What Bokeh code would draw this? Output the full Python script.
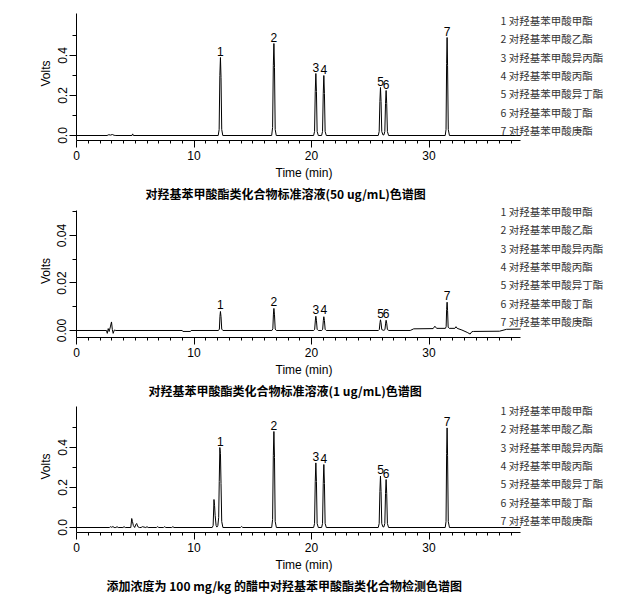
import math
from bokeh.plotting import figure
from bokeh.models import Range1d, FixedTicker, Label, ColumnDataSource, Title
from bokeh.layouts import column
from bokeh.embed import file_html
from bokeh.resources import INLINE
from bokeh.core.properties import value

# ---------------- data ----------------
compound_names = ["对羟基苯甲酸甲酯", "对羟基苯甲酸乙酯", "对羟基苯甲酸异丙酯", "对羟基苯甲酸丙酯",
                  "对羟基苯甲酸异丁酯", "对羟基苯甲酸丁酯", "对羟基苯甲酸庚酯"]
peak_ids = ["1", "2", "3", "4", "5", "6", "7"]
peak_times = [12.25, 16.80, 20.37, 21.05, 25.87, 26.35, 31.54]

captions = ["对羟基苯甲酸酯类化合物标准溶液(50 ug/mL)色谱图",
            "对羟基苯甲酸酯类化合物标准溶液(1 ug/mL)色谱图",
            "添加浓度为 100 mg/kg 的醋中对羟基苯甲酸酯类化合物检测色谱图"]

# Trace 1: standard 50 ug/mL
time_50 = [0.00, 2.60, 2.75, 2.90, 3.05, 3.20, 3.35, 4.72, 4.78, 4.84,
           12.06, 12.14, 12.20, 12.25, 12.30, 12.36, 12.45,
           16.61, 16.69, 16.75, 16.80, 16.85, 16.91, 17.00,
           20.18, 20.26, 20.32, 20.37, 20.42, 20.48, 20.58,
           20.86, 20.94, 21.00, 21.05, 21.10, 21.16, 21.26,
           25.68, 25.76, 25.82, 25.87, 25.92, 25.98, 26.08,
           26.16, 26.24, 26.30, 26.35, 26.40, 26.46, 26.56,
           31.38, 31.45, 31.50, 31.54, 31.58, 31.64, 31.74, 37.80]
volts_50 = [0, 0, 0.004, 0.002, 0.005, 0.001, 0, 0, 0.008, 0,
            0, 0.03, 0.30, 0.39, 0.29, 0.03, 0,
            0, 0.04, 0.35, 0.46, 0.34, 0.03, 0,
            0, 0.02, 0.22, 0.31, 0.22, 0.02, 0,
            0, 0.02, 0.21, 0.30, 0.21, 0.02, 0,
            0, 0.02, 0.17, 0.24, 0.17, 0.02, 0.003,
            0.003, 0.02, 0.16, 0.225, 0.16, 0.02, 0,
            0, 0.03, 0.36, 0.49, 0.35, 0.03, 0, 0]
label_h_50 = [0.39, 0.46, 0.31, 0.30, 0.24, 0.225, 0.49]

# Trace 2: standard 1 ug/mL
time_1 = [0.00, 2.55, 2.62, 2.70, 2.78, 2.88, 2.98, 3.05, 3.12, 3.22, 3.35, 9.00, 9.05, 9.70, 9.75,
          12.08, 12.16, 12.21, 12.25, 12.30, 12.36, 12.46,
          16.63, 16.71, 16.76, 16.80, 16.85, 16.91, 17.01,
          20.19, 20.27, 20.33, 20.37, 20.42, 20.48, 20.58,
          20.87, 20.95, 21.01, 21.05, 21.10, 21.16, 21.26,
          25.69, 25.77, 25.83, 25.87, 25.92, 25.98, 26.10,
          26.18, 26.25, 26.31, 26.35, 26.40, 26.46, 26.58,
          28.40, 28.70, 30.35, 30.50, 30.65, 31.40, 31.46, 31.50, 31.54, 31.58, 31.63, 31.72,
          32.20, 32.30, 32.40, 32.80, 33.25, 33.50, 33.65, 33.80, 36.00, 36.60, 37.80]
volts_1 = [0, 0, -0.0012, 0.0008, -0.0004, 0.0015, 0.0036, 0.0004, -0.0012, 0.0002, 0, 0, -0.0004, -0.0004, 0,
           0, 0.0006, 0.0060, 0.0080, 0.0058, 0.0006, 0,
           0, 0.0007, 0.0069, 0.0093, 0.0066, 0.0006, 0,
           0, 0.0005, 0.0044, 0.0060, 0.0043, 0.0005, 0,
           0, 0.0005, 0.0043, 0.0058, 0.0042, 0.0005, 0,
           0, 0.0004, 0.0033, 0.0045, 0.0032, 0.0004, 0.0001,
           0.0001, 0.0004, 0.0031, 0.0043, 0.0031, 0.0004, 0,
           0, 0.0007, 0.0008, 0.0018, 0.0009, 0.0009, 0.0016, 0.0088, 0.0119, 0.0085, 0.0014, 0.0009,
           0.0009, 0.0016, 0.0009, 0.0002, -0.0008, -0.0015, -0.0005, -0.0004, -0.0003, 0.0005, 0.0006]
label_h_1 = [0.0080, 0.0093, 0.0060, 0.0060, 0.0045, 0.0045, 0.0119]

# Trace 3: vinegar sample spiked 100 mg/kg
time_v = [0.00, 2.80, 2.90, 3.00, 3.10, 3.20, 3.35, 3.45, 3.55, 3.95, 4.05, 4.15,
          4.62, 4.70, 4.76, 4.84, 4.95, 5.05, 5.12, 5.22, 5.35, 5.50, 5.60, 5.90, 6.00, 6.10,
          6.80, 6.90, 7.00, 7.40, 7.50, 7.60, 8.10, 8.20, 8.30,
          11.55, 11.63, 11.70, 11.75, 11.80, 11.88, 11.95,
          12.03, 12.10, 12.15, 12.20, 12.25, 12.30, 12.36, 12.46,
          13.95, 14.05, 14.15,
          16.61, 16.69, 16.75, 16.80, 16.85, 16.91, 17.01,
          20.18, 20.26, 20.32, 20.37, 20.42, 20.48, 20.58,
          20.86, 20.94, 21.00, 21.05, 21.10, 21.16, 21.26,
          25.68, 25.76, 25.82, 25.87, 25.92, 25.98, 26.08,
          26.16, 26.24, 26.30, 26.35, 26.40, 26.46, 26.56,
          31.38, 31.45, 31.50, 31.54, 31.58, 31.64, 31.74, 37.80]
volts_v = [0, 0, 0.004, 0.001, 0.005, 0.0, 0, 0.004, 0, 0, 0.004, 0,
           0, 0.045, 0.030, 0.010, 0, 0.015, 0.020, 0.004, 0, 0, 0.004, 0, 0.004, 0,
           0, 0.004, 0, 0, 0.004, 0, 0, 0.004, 0,
           0, 0.010, 0.140, 0.110, 0.060, 0.010, 0.002,
           0.010, 0.050, 0.230, 0.400, 0.370, 0.220, 0.030, 0,
           0, 0.005, 0,
           0, 0.04, 0.36, 0.48, 0.35, 0.03, 0,
           0, 0.02, 0.23, 0.323, 0.23, 0.02, 0,
           0, 0.02, 0.22, 0.315, 0.22, 0.02, 0,
           0, 0.02, 0.18, 0.257, 0.18, 0.02, 0.003,
           0.003, 0.02, 0.17, 0.24, 0.17, 0.02, 0,
           0, 0.03, 0.37, 0.498, 0.36, 0.03, 0, 0]
label_h_v = [0.40, 0.48, 0.323, 0.315, 0.257, 0.24, 0.498]

x_major = [0, 10, 20, 30]
x_minor = list(range(1, 38))

# ---------------- layout constants ----------------
LEFT = 76
FRAME_W = 543
PX_PER_MIN = 11.75
X_END = FRAME_W / PX_PER_MIN
AXIS_END = 37.8

LATIN = "Liberation Sans"
CJK = "Noto Sans CJK SC"


def make_panel(times, volts, label_h, yr, ytop, yticks, yminor, ylabels, caption, cap_offset,
               top_border, frame_h, legend_top):
    p = figure(frame_width=FRAME_W, frame_height=frame_h, output_backend="svg",
               toolbar_location=None,
               x_range=Range1d(0, X_END), y_range=Range1d(*yr),
               min_border_left=LEFT, min_border_right=0, min_border_top=top_border,
               min_border_bottom=0)
    p.outline_line_color = None
    p.grid.visible = False
    p.background_fill_color = "white"
    p.border_fill_color = "white"

    src = ColumnDataSource(dict(t=times, v=volts))
    p.line("t", "v", source=src, line_color="black", line_width=1)

    lab = ColumnDataSource(dict(t=peak_times, h=label_h, s=peak_ids))
    p.text("t", "h", text="s", source=lab, text_align="center", text_baseline="bottom",
           y_offset=-2, text_font=value(LATIN), text_font_size="12px", text_color="black")

    xa = p.xaxis[0]
    xa.ticker = FixedTicker(ticks=x_major, minor_ticks=x_minor)
    xa.bounds = (0, AXIS_END)
    xa.major_tick_in = 0
    xa.major_tick_out = 7
    xa.minor_tick_in = 0
    xa.minor_tick_out = 3
    xa.major_label_standoff = 3
    xa.major_label_text_font = LATIN
    xa.major_label_text_font_size = "12px"
    xa.major_label_text_color = "black"

    ya = p.yaxis[0]
    ya.ticker = FixedTicker(ticks=yticks, minor_ticks=yminor)
    ya.bounds = (yr[0], ytop)
    ya.major_label_overrides = {t: s for t, s in zip(yticks, ylabels)}
    ya.major_label_orientation = "vertical"
    ya.major_tick_in = 0
    ya.major_tick_out = 7
    ya.minor_tick_in = 0
    ya.minor_tick_out = 4
    ya.major_label_standoff = 3
    ya.major_label_text_font = LATIN
    ya.major_label_text_font_size = "12px"
    ya.major_label_text_color = "black"
    ya.axis_label = "Volts"
    ya.axis_label_standoff = 2
    ya.axis_label_text_font = LATIN
    ya.axis_label_text_font_size = "12px"
    ya.axis_label_text_font_style = "normal"
    ya.axis_label_text_color = "black"

    p.add_layout(Title(text="Time (min)", align="left", offset=199, standoff=6,
                       vertical_align="top", text_font=LATIN, text_font_size="12px",
                       text_font_style="normal", text_color="black"), "below")
    # invisible spacer between axis title and caption
    p.add_layout(Title(text="x", align="left", offset=0, standoff=0, text_font=LATIN,
                       text_font_size="4px", text_alpha=0.0), "below")
    p.add_layout(Title(text=caption, align="left", offset=cap_offset, standoff=0,
                       vertical_align="top", text_font=CJK, text_font_size="12px",
                       text_font_style="bold", text_color="black"), "below")

    for i, (pid, name) in enumerate(zip(peak_ids, compound_names)):
        p.add_layout(Label(x=424, y=frame_h - (legend_top + i * 18.3), x_units="screen",
                           y_units="screen", text=f"{pid} {name}", text_align="left",
                           text_baseline="middle", text_font=CJK, text_font_size="10.5px",
                           text_color="#333333"))
    return p


p1 = make_panel(time_50, volts_50, label_h_50, (-0.025, 0.645), 0.61,
                [0.0, 0.2, 0.4], [0.1, 0.3, 0.5], ["0.0", "0.2", "0.4"], captions[0], 69,
                6, 134, 14)
p2 = make_panel(time_1, volts_1, label_h_1, (-0.00295, 0.05305), 0.0505,
                [0.0, 0.02, 0.04], [0.01, 0.03, 0.05], ["0.00", "0.02", "0.04"], captions[1], 72,
                1, 133, 7)
p3 = make_panel(time_v, volts_v, label_h_v, (-0.025, 0.635), 0.605,
                [0.0, 0.2, 0.4], [0.1, 0.3, 0.5], ["0.0", "0.2", "0.4"], captions[2], 30,
                0, 132, 10)

layout = column(p1, p2, p3, spacing=0)
open("out.html", "w").write(file_html(layout, INLINE))
